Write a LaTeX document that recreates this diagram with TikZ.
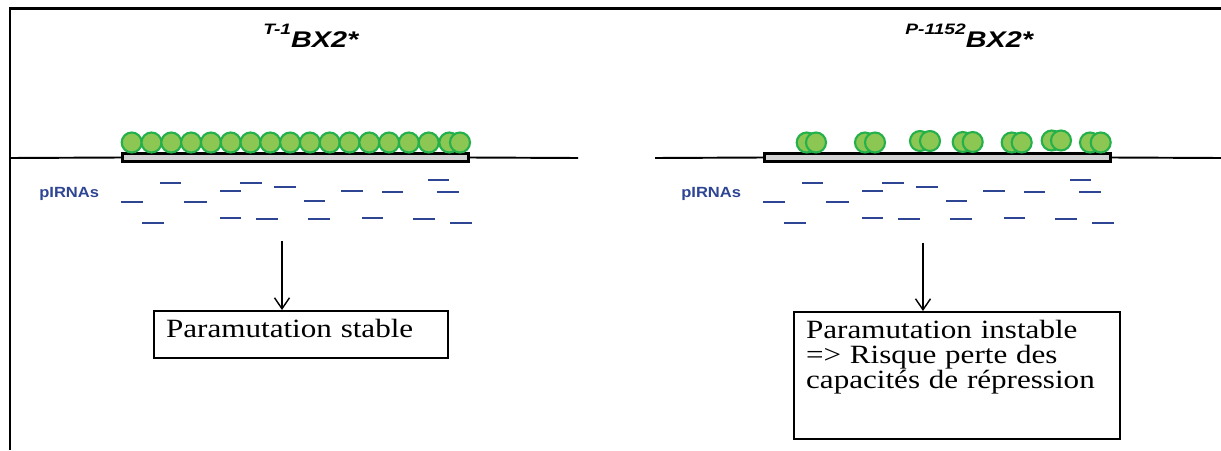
\documentclass[tikz,border=0pt]{standalone}
\usepackage{fontspec}
\setmainfont{Liberation Serif}[FakeStretch=1.18]
\newfontfamily\titlefont{Liberation Sans}[FakeStretch=1.27]
\newfontfamily\pifont{Liberation Sans}[FakeStretch=1.12]
\usetikzlibrary{arrows.meta, positioning}
\definecolor{pirna}{HTML}{2E4593}
\definecolor{nucfill}{HTML}{8CC653}
\definecolor{nucdraw}{HTML}{24B04B}
\definecolor{genegray}{HTML}{D3D3D3}
\tikzset{
  % cornice
  frame/.style={line width=1.7pt},
  % DNA e gene
  dna/.style={line width=1.1pt},
  gene/.style={draw, line width=1.6pt, fill=genegray, minimum width=6.92cm,
    minimum height=0.16cm, inner sep=0pt},
  % nucleosomi
  nuc/.style={draw=nucdraw, fill=nucfill, line width=1.2pt},
  % piRNA
  pirnaline/.style={pirna, line width=1.3pt},
  pilbl/.style={font=\pifont\bfseries\fontsize{8.4}{9}\selectfont, text=pirna,
    inner sep=0pt},
  % titoli
  allele/.style={font=\titlefont\bfseries\itshape\fontsize{12.9}{15}\selectfont,
    inner sep=0pt},
  % riquadri del risultato
  result/.style={draw, line width=1.3pt, align=left, font=\fontsize{15}{14.3}\selectfont,
    inner xsep=0.24cm, inner ysep=0.16cm, text height=0.36cm},
  arr/.style={-{Straight Barb[length=2.2mm, width=3mm]}, line width=0.8pt},
}
\newcommand{\supal}[1]{\raisebox{7pt}{\fontsize{8.6}{9}\selectfont #1}}

\begin{document}
\begin{tikzpicture}[x=0.02cm, y=-0.02cm]
  \useasboundingbox (0,0) rectangle (1221,450);
  \draw[frame] (10,450) -- (10,8.5) -- (1221,8.5);

  % titoli
  \node[allele, anchor=base west] (titL) at (263,47) {\supal{T-1}BX2*};
  \node[allele, anchor=base west] (titR) at (905,47) {\supal{P-1152}BX2*};

  % DNA
  \node[gene] (geneL) at (295.5,157.5) {};
  \node[gene] (geneR) at (937.5,157.5) {};
  \coordinate (dnaLa) at (10,158);
  \coordinate (dnaLb) at (578,158);
  \coordinate (dnaRa) at (655,158);
  \coordinate (dnaRb) at (1221,158);
  \draw[dna] (dnaLa) -- (geneL.west);
  \draw[dna] (geneL.east) -- (dnaLb);
  \draw[dna] (dnaRa) -- (geneR.west);
  \draw[dna] (geneR.east) -- (dnaRb);

  % nucleosomi
  \foreach \cx in {131.7,151.5,...,428.8,449.3,460}
    \draw[nuc] (\cx,142.5) circle[radius=0.2cm];
  \foreach \a/\b/\cy in {806.7/816/142.5, 865/875/142.5, 920/930/141,
      962.7/972.7/142, 1011.7/1021.7/142.5, 1051.7/1061/140.5, 1090/1100.7/142.5} {
    \draw[nuc] (\a,\cy) circle[radius=0.2cm];
    \draw[nuc] (\b,\cy) circle[radius=0.2cm];
  }

  % piRNA
  \node[pilbl, anchor=base west] (piL) at (39,197.5) {pIRNAs};
  \node[pilbl, anchor=base west] (piR) at (681,197.5) {pIRNAs};
  \foreach \off in {0,642}
    \foreach \xa/\xb/\yy in {160/181/182.7, 240/262/182.7, 274/296/187.3,
        220/241/190.7, 341/363/190.7, 428/449/180.3, 382/403/192, 437/459/192,
        121/143/201.7, 184/207/201.7, 304/325/201.3, 220/241/217.7,
        256/278/219.3, 308/330/219.3, 362/383/217.7, 413/435/219.3,
        142/164/223.3, 450/472/223.3}
      \draw[pirnaline] (\xa+\off,\yy) -- (\xb+\off,\yy);

  % risultati
  \node[result, anchor=north west, text width=5.4cm, text depth=0.26cm] (resL) at (153,310)
    {Paramutation stable};
  \node[result, anchor=north west, text width=6.04cm, text depth=1.86cm] (resR) at (793,311)
    {Paramutation instable\\=> Risque perte des\\capacités de répression};
  \coordinate (srcL) at (282,241);
  \coordinate (srcR) at (923,243);
  \draw[arr] (srcL) -- (srcL |- resL.north);
  \draw[arr] (srcR) -- (srcR |- resR.north);
\end{tikzpicture}
\end{document}
